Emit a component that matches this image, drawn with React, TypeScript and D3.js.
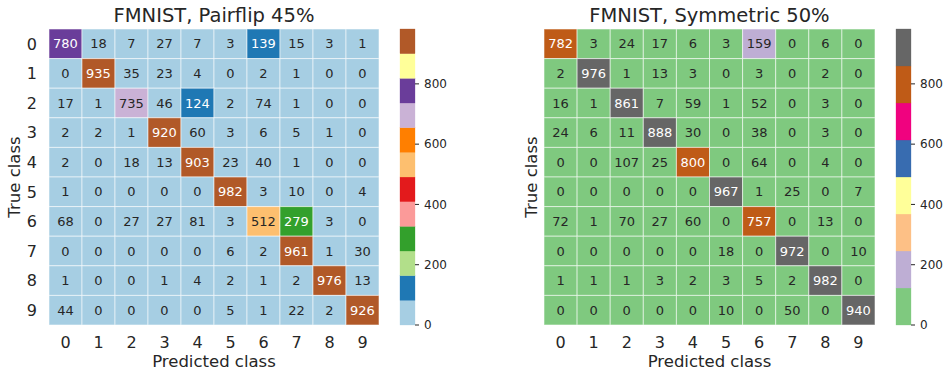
import React from "react";
import * as d3 from "d3";

const classes = ["0", "1", "2", "3", "4", "5", "6", "7", "8", "9"];

const pairflipMatrix = [
  [780, 18, 7, 27, 7, 3, 139, 15, 3, 1],
  [0, 935, 35, 23, 4, 0, 2, 1, 0, 0],
  [17, 1, 735, 46, 124, 2, 74, 1, 0, 0],
  [2, 2, 1, 920, 60, 3, 6, 5, 1, 0],
  [2, 0, 18, 13, 903, 23, 40, 1, 0, 0],
  [1, 0, 0, 0, 0, 982, 3, 10, 0, 4],
  [68, 0, 27, 27, 81, 3, 512, 279, 3, 0],
  [0, 0, 0, 0, 0, 6, 2, 961, 1, 30],
  [1, 0, 0, 1, 4, 2, 1, 2, 976, 13],
  [44, 0, 0, 0, 0, 5, 1, 22, 2, 926],
];

const symmetricMatrix = [
  [782, 3, 24, 17, 6, 3, 159, 0, 6, 0],
  [2, 976, 1, 13, 3, 0, 3, 0, 2, 0],
  [16, 1, 861, 7, 59, 1, 52, 0, 3, 0],
  [24, 6, 11, 888, 30, 0, 38, 0, 3, 0],
  [0, 0, 107, 25, 800, 0, 64, 0, 4, 0],
  [0, 0, 0, 0, 0, 967, 1, 25, 0, 7],
  [72, 1, 70, 27, 60, 0, 757, 0, 13, 0],
  [0, 0, 0, 0, 0, 18, 0, 972, 0, 10],
  [1, 1, 1, 3, 2, 3, 5, 2, 982, 0],
  [0, 0, 0, 0, 0, 10, 0, 50, 0, 940],
];

const colorbarTicks = [0, 200, 400, 600, 800];

const pairedColors = [
  "#a6cee3", "#1f78b4", "#b2df8a", "#33a02c", "#fb9a99", "#e31a1c",
  "#fdbf6f", "#ff7f00", "#cab2d6", "#6a3d9a", "#ffff99", "#b15928",
];
const accentColors = [
  "#7fc97f", "#beaed4", "#fdc086", "#ffff99", "#386cb0", "#f0027f", "#bf5b17", "#666666",
];

const FONT = "'DejaVu Sans', sans-serif";
const TEXT = "#262626";

function luminance(hex: string) {
  const c = d3.rgb(hex);
  const f = (v: number) => {
    v /= 255;
    return v <= 0.03928 ? v / 12.92 : Math.pow((v + 0.055) / 1.055, 2.4);
  };
  return 0.2126 * f(c.r) + 0.7152 * f(c.g) + 0.0722 * f(c.b);
}

type PanelProps = {
  title: string;
  matrix: number[][];
  colors: string[];
  x0: number;
  x1: number;
  cbX: number;
  showYTicks: boolean;
  yLabelX: number;
};

function Panel({ title, matrix, colors, x0, x1, cbX, showYTicks, yLabelX }: PanelProps) {
  const y0 = 29;
  const y1 = 325;
  const vmin = 0;
  const vmax = d3.max(matrix.flat()) as number;
  const xs = d3.scaleBand<string>().domain(classes).range([x0, x1]);
  const ys = d3.scaleBand<string>().domain(classes).range([y0, y1]);
  const n = colors.length;
  const color = (v: number) => {
    let i = Math.floor(((v - vmin) / (vmax - vmin)) * n);
    if (i >= n) i = n - 1;
    if (i < 0) i = 0;
    return colors[i];
  };
  const cbScale = d3.scaleLinear().domain([vmin, vmax]).range([y1, y0]);
  const cbW = 15;
  const cx = (x0 + x1) / 2;
  return (
    <g>
      <text x={cx} y={22} textAnchor="middle" fontFamily={FONT} fontSize={19.5} fill={TEXT}>
        {title}
      </text>
      {matrix.map((row, r) =>
        row.map((v, c) => {
          const fill = color(v);
          const x = xs(classes[c]) as number;
          const y = ys(classes[r]) as number;
          const tc = luminance(fill) > 0.408 ? TEXT : "#ffffff";
          return (
            <g key={`${r}-${c}`}>
              <rect x={x} y={y} width={xs.bandwidth()} height={ys.bandwidth()} fill={fill}
                stroke="#ffffff" strokeOpacity={0.55} strokeWidth={1} />
              <text x={x + xs.bandwidth() / 2} y={y + ys.bandwidth() / 2} dy="0.36em"
                textAnchor="middle" fontFamily={FONT} fontSize={13} fill={tc}>
                {v}
              </text>
            </g>
          );
        })
      )}
      {classes.map((k) => (
        <text key={"x" + k} x={(xs(k) as number) + xs.bandwidth() / 2} y={348}
          textAnchor="middle" fontFamily={FONT} fontSize={16} fill={TEXT}>
          {k}
        </text>
      ))}
      {showYTicks
        ? classes.map((k) => (
            <text key={"y" + k} x={x0 - 12} y={(ys(k) as number) + ys.bandwidth() / 2} dy="0.36em"
              textAnchor="end" fontFamily={FONT} fontSize={16} fill={TEXT}>
              {k}
            </text>
          ))
        : null}
      <text x={cx} y={367} textAnchor="middle" fontFamily={FONT} fontSize={16.5} fill={TEXT}>
        Predicted class
      </text>
      <text transform={`translate(${yLabelX},${(y0 + y1) / 2}) rotate(-90)`} textAnchor="middle"
        fontFamily={FONT} fontSize={16.5} fill={TEXT}>
        True class
      </text>
      {colors.map((col, i) => {
        const a = vmin + ((vmax - vmin) * i) / n;
        const b = vmin + ((vmax - vmin) * (i + 1)) / n;
        return (
          <rect key={"cb" + i} x={cbX} y={cbScale(b)} width={cbW} height={cbScale(a) - cbScale(b)}
            fill={col} stroke={col} strokeWidth={0.3} />
        );
      })}
      {colorbarTicks.map((t) => (
        <g key={"t" + t}>
          <line x1={cbX + cbW} x2={cbX + cbW + 4} y1={cbScale(t)} y2={cbScale(t)} stroke={TEXT} strokeWidth={1} />
          <text x={cbX + cbW + 9} y={cbScale(t)} dy="0.35em" fontFamily={FONT} fontSize={12} fill={TEXT}>
            {t}
          </text>
        </g>
      ))}
    </g>
  );
}

export default function App() {
  return (
    <svg width={952} height={379} style={{ position: "absolute", left: 0, top: 0, background: "#fff" }}>
      <rect width={952} height={379} fill="#ffffff" />
      <Panel title="FMNIST, Pairflip 45%" matrix={pairflipMatrix} colors={pairedColors}
        x0={49} x1={379} cbX={400} showYTicks={true} yLabelX={20} />
      <Panel title="FMNIST, Symmetric 50%" matrix={symmetricMatrix} colors={accentColors}
        x0={544} x1={875} cbX={896} showYTicks={false} yLabelX={537} />
    </svg>
  );
}
